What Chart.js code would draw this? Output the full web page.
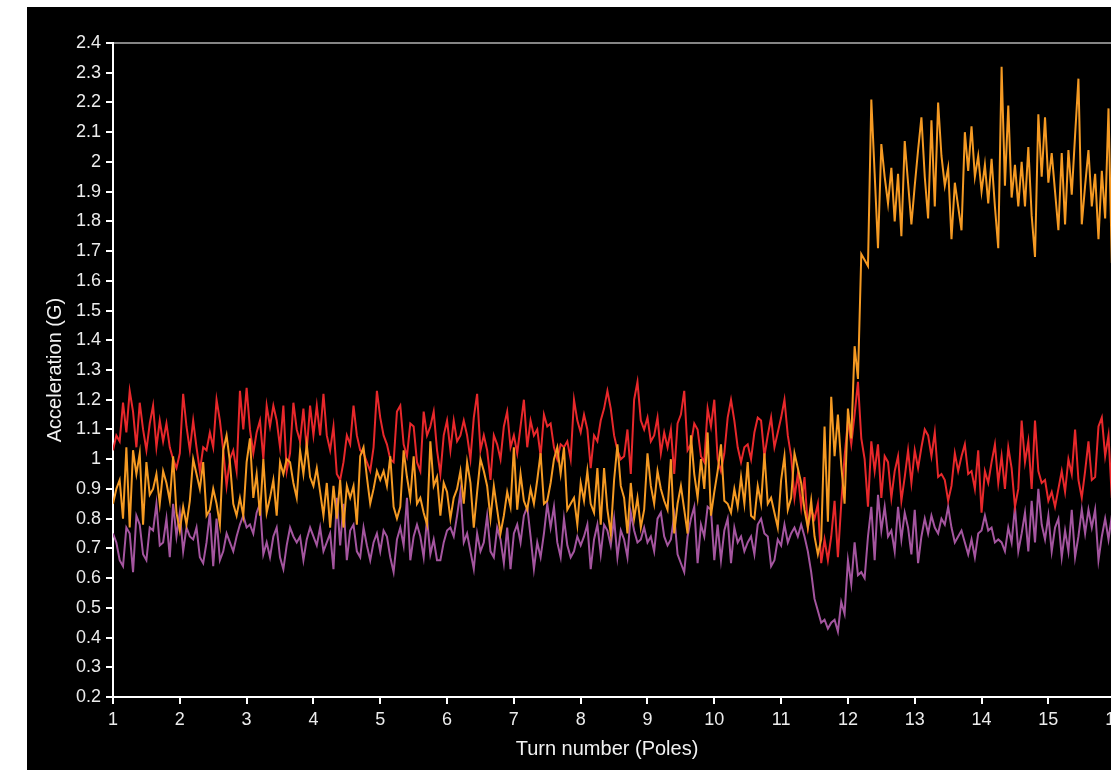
<!DOCTYPE html>
<html>
<head>
<meta charset="utf-8">
<script src="https://cdn.jsdelivr.net/npm/chart.js@4/dist/chart.umd.min.js"></script>
<style>
  html, body { margin: 0; padding: 0; background: #fff; overflow: hidden; }
  #wrap { position: absolute; left: 27px; top: 7px; width: 1170px; height: 790px; background: #000; }
</style>
</head>
<body>
<div id="wrap"><canvas id="accelChart" width="1170" height="790"></canvas></div>
<script>
// sampling of the turn axis: one reading every 0.05 turn, starting at turn 1
var turnStart = 1;
var turnStep = 0.05;

var xTicks = [1, 2, 3, 4, 5, 6, 7, 8, 9, 10, 11, 12, 13, 14, 15, 16];
var yMin = 0.2, yMax = 2.4, yStep = 0.1;

var redSeries = [
    1.03, 1.08, 1.06, 1.19, 1.09, 1.23, 1.16, 1.04, 1.19, 1.10,
    1.03, 1.12, 1.18, 1.04, 1.13, 1.06, 1.12, 1.04, 1.00, 0.97,
    1.02, 1.22, 1.11, 1.03, 1.13, 1.04, 0.96, 1.04, 1.03, 1.09,
    1.04, 1.20, 1.13, 1.03, 0.91, 1.00, 1.03, 0.96, 1.23, 1.10,
    1.24, 1.10, 1.02, 1.09, 1.13, 1.00, 1.18, 1.11, 1.18, 1.13,
    1.04, 1.18, 0.96, 1.02, 1.19, 1.10, 1.06, 1.17, 1.03, 1.18,
    1.08, 1.18, 1.08, 1.22, 1.08, 1.03, 1.11, 0.95, 0.93, 0.99,
    1.08, 1.05, 1.18, 1.08, 1.03, 1.02, 0.99, 0.96, 1.04, 1.23,
    1.14, 1.08,
    1.05, 1.00, 0.99, 1.16, 1.18, 1.05, 1.01, 1.12, 1.11, 0.99,
    0.96, 1.16, 1.08, 1.11, 1.16, 1.03, 0.95, 1.08, 1.13, 1.03,
    1.13, 1.06, 1.08, 1.13, 1.08, 1.00, 1.14, 1.22, 1.03, 1.08,
    1.03, 0.93, 1.08, 1.05, 1.00, 1.11, 1.16, 1.04, 1.08, 1.02,
    1.11, 1.20, 1.04, 1.13, 1.08, 1.10, 1.01, 1.15, 1.11, 1.12,
    1.04, 1.00, 1.05, 1.04, 1.06, 1.00, 1.20, 1.13, 1.09, 1.15,
    1.10, 0.97, 1.08, 1.06, 1.13, 1.17, 1.23, 1.17, 1.08, 1.03,
    1.00, 1.01, 1.10, 0.95, 1.20, 1.26, 1.13, 1.10, 1.14, 1.06,
    1.08, 1.14, 1.02, 1.09, 1.04, 1.10, 0.95, 1.12, 1.15, 1.23,
    1.03, 1.05, 1.12, 1.10, 1.01, 0.99, 1.17, 1.11, 1.20, 1.00,
    0.96, 1.02, 1.14, 1.20, 1.13, 1.04, 0.99, 1.04, 1.05, 1.00,
    1.09, 1.14, 1.13, 1.01, 1.08, 1.14, 1.04, 1.09, 1.14, 1.20,
    1.08, 1.01, 0.87, 0.95, 0.84, 0.94, 0.77, 0.83, 0.80, 0.85,
    0.65, 0.73, 0.66, 0.74, 0.86, 0.67, 0.85, 1.01, 1.13, 1.05,
    1.15, 1.26, 1.07, 1.00,
    0.84, 1.06, 0.96, 1.05, 0.87, 1.01, 0.99, 0.87, 0.96, 1.01,
    0.86, 0.94, 1.03, 0.92, 1.03, 0.97, 1.04, 1.10, 1.08, 1.01,
    1.09, 0.94, 0.95, 0.93, 0.86, 0.91, 1.02, 0.96, 1.01, 1.05,
    0.95, 0.96, 0.90, 1.03, 0.82, 0.96, 0.92, 0.99, 1.05, 0.92,
    1.01, 0.90, 1.04, 0.97, 0.84, 0.90, 1.13, 0.99, 1.06, 0.90,
    1.13, 0.96, 0.92, 0.93, 0.86, 0.89, 0.84, 0.90, 0.96, 0.89,
    1.00, 0.95, 1.10, 0.93, 0.87, 0.96, 1.06, 0.93, 0.94, 1.11,
    1.14, 1.01, 1.08, 0.87, 0.95
];

var orangeSeries = [
    0.85, 0.90, 0.93, 0.80, 1.04, 0.77, 1.03, 0.95, 1.02, 0.78,
    0.99, 0.88, 0.90, 0.95, 0.85, 0.96, 0.92, 0.86, 1.01, 0.82,
    0.76, 0.84, 0.78, 0.86, 1.00, 0.95, 0.90, 0.99, 0.81, 0.83,
    0.90, 0.85, 0.78, 1.03, 1.08, 0.99, 0.85, 0.81, 0.87, 0.81,
    0.99, 1.07, 0.87, 0.95, 0.81, 1.00, 0.82, 0.87, 0.93, 0.81,
    0.99, 0.95, 1.00, 0.99, 0.92, 0.87, 1.03, 0.95, 1.05, 0.94,
    0.91, 0.97, 0.89, 0.81, 0.92, 0.77, 0.91, 0.80, 0.93, 0.77,
    0.91, 0.87, 0.91, 0.78, 1.01, 1.04, 0.94, 0.85, 0.90, 0.96,
    0.93, 0.96,
    0.91, 1.01, 0.84, 0.80, 0.84, 1.03, 0.94, 0.87, 1.01, 0.85,
    0.87, 0.82, 0.78, 1.06, 0.91, 0.94, 0.81, 0.92, 0.89, 0.80,
    0.87, 0.90, 0.96, 0.85, 0.99, 0.92, 0.77, 0.89, 1.00, 0.96,
    0.91, 0.80, 0.91, 0.83, 0.75, 0.81, 0.89, 0.84, 1.04, 0.83,
    0.95, 0.86, 0.83, 0.90, 0.85, 0.93, 1.02, 0.85, 0.86, 0.92,
    1.00, 1.04, 0.95, 1.04, 0.83, 0.85, 0.87, 0.78, 0.92, 0.86,
    0.96, 0.85, 0.82, 0.97, 0.78, 0.97, 0.83, 0.75, 0.93, 1.05,
    0.91, 0.87, 0.75, 0.92, 0.80, 0.87, 0.77, 0.83, 1.02, 0.91,
    0.85, 0.96, 0.90, 0.86, 0.83, 1.00, 0.75, 0.85, 0.91, 0.83,
    0.75, 1.08, 0.95, 0.87, 1.00, 0.90, 1.09, 0.81, 0.89, 0.96,
    1.05, 0.86, 0.85, 0.82, 0.90, 0.84, 0.94, 0.85, 0.99, 0.81,
    0.80, 0.91, 0.85, 1.02, 0.85, 0.87, 0.82, 0.77, 0.93, 1.01,
    0.83, 0.87, 1.02, 0.97, 0.92, 0.83, 0.77, 0.86, 0.74, 0.68,
    0.73, 1.11, 0.79, 1.21, 1.01, 1.15, 0.98, 0.85, 1.17, 1.07,
    1.38, 1.27,
    1.69, 1.67, 1.65, 2.21, 1.96, 1.71, 2.06, 1.95, 1.86, 1.98,
    1.80, 1.96, 1.75, 2.07, 1.93, 1.79, 1.92, 2.04, 2.15, 1.95,
    1.81, 2.14, 1.85, 2.20, 2.02, 1.92, 1.98, 1.74, 1.93, 1.85,
    1.77, 2.10, 1.97, 2.12, 1.95, 2.02, 1.90, 1.99, 1.86, 2.01,
    1.85, 1.71, 2.32, 1.92, 2.19, 1.88, 1.99, 1.85, 2.00, 1.85,
    2.05, 1.82, 1.68, 2.16, 1.95, 2.15, 1.93, 2.03, 1.90, 1.77,
    2.03, 1.79, 2.04, 1.89, 2.09, 2.28, 1.79, 1.92, 2.04, 1.85,
    1.96, 1.74, 1.97, 1.81, 2.18, 1.66, 1.90
];

var purpleSeries = [
    0.75, 0.72, 0.66, 0.64, 0.77, 0.75, 0.62, 0.81, 0.78, 0.68,
    0.66, 0.77, 0.76, 0.85, 0.71, 0.72, 0.80, 0.67, 0.85, 0.74,
    0.82, 0.69, 0.77, 0.74, 0.73, 0.77, 0.67, 0.65, 0.72, 0.82,
    0.64, 0.80, 0.66, 0.69, 0.75, 0.72, 0.69, 0.74, 0.78, 0.81,
    0.77, 0.78, 0.75, 0.82, 0.85, 0.68, 0.72, 0.67, 0.74, 0.77,
    0.67, 0.63, 0.71, 0.77, 0.74, 0.72, 0.74, 0.66, 0.73, 0.77,
    0.74, 0.71, 0.77, 0.69, 0.72, 0.75, 0.63, 0.87, 0.71, 0.85,
    0.66, 0.76, 0.78, 0.69, 0.67, 0.77, 0.71, 0.66, 0.72, 0.75,
    0.69, 0.76,
    0.74, 0.67, 0.62, 0.73, 0.77, 0.71, 0.87, 0.66, 0.74, 0.78,
    0.74, 0.67, 0.80, 0.68, 0.73, 0.66, 0.66, 0.72, 0.76, 0.77,
    0.74, 0.81, 0.89, 0.72, 0.75, 0.69, 0.63, 0.75, 0.69, 0.72,
    0.81, 0.69, 0.67, 0.77, 0.73, 0.65, 0.77, 0.63, 0.75, 0.78,
    0.72, 0.81, 0.84, 0.74, 0.63, 0.72, 0.67, 0.75, 0.85, 0.77,
    0.84, 0.72, 0.67, 0.80, 0.71, 0.67, 0.69, 0.74, 0.71, 0.74,
    0.78, 0.63, 0.73, 0.78, 0.68, 0.78, 0.76, 0.71, 0.80, 0.67,
    0.76, 0.73, 0.67, 0.82, 0.76, 0.72, 0.73, 0.77, 0.72, 0.74,
    0.69, 0.80, 0.82, 0.74, 0.71, 0.73, 0.81, 0.68, 0.65, 0.62,
    0.74, 0.80, 0.84, 0.65, 0.78, 0.74, 0.84, 0.83, 0.66, 0.78,
    0.66, 0.76, 0.80, 0.65, 0.77, 0.72, 0.74, 0.69, 0.72, 0.74,
    0.68, 0.78, 0.80, 0.75, 0.74, 0.64, 0.66, 0.73, 0.71, 0.78,
    0.72, 0.75, 0.77, 0.74, 0.78, 0.74, 0.69, 0.62, 0.53, 0.49,
    0.45, 0.46, 0.43, 0.45, 0.46, 0.42, 0.52, 0.48, 0.66, 0.58,
    0.72, 0.61, 0.62, 0.60, 0.74, 0.84, 0.66, 0.88,
    0.76, 0.84, 0.74, 0.76, 0.69, 0.84, 0.73, 0.82, 0.77, 0.68,
    0.83, 0.65, 0.74, 0.80, 0.75, 0.81, 0.77, 0.75, 0.80, 0.78,
    0.84, 0.77, 0.72, 0.74, 0.76, 0.72, 0.68, 0.73, 0.67, 0.75,
    0.76, 0.81, 0.76, 0.77, 0.72, 0.73, 0.72, 0.69, 0.77, 0.72,
    0.84, 0.69, 0.75, 0.82, 0.69, 0.86, 0.72, 0.90, 0.78, 0.73,
    0.81, 0.69, 0.77, 0.80, 0.67, 0.76, 0.69, 0.83, 0.67, 0.74,
    0.83, 0.75, 0.83, 0.77, 0.83, 0.66, 0.74, 0.80, 0.73, 0.81,
    0.77
];

function toPoints(values) {
    return values.map(function(v, i) { return { x: turnStart + i * turnStep, y: v }; });
}

Chart.defaults.font.family = '"Liberation Sans", Arial, Helvetica, sans-serif';

var axisTitles = {
    id: 'axisTitles',
    afterDraw: function(chart) {
        var ctx = chart.ctx;
        ctx.save();
        ctx.fillStyle = '#f2f2f2';
        ctx.font = '20px "Liberation Sans", Arial, sans-serif';
        ctx.textAlign = 'center';
        ctx.textBaseline = 'alphabetic';
        ctx.fillText('Turn number (Poles)', 580, 748);
        ctx.textBaseline = 'middle';
        ctx.translate(28, 363);
        ctx.rotate(-Math.PI / 2);
        ctx.fillText('Acceleration (G)', 0, 0);
        ctx.restore();
    }
};

function isTop(v) { return Math.abs(v - yMax) < 1e-6; }

new Chart(document.getElementById('accelChart'), {
    type: 'line',
    data: {
        datasets: [{
            label: 'Orange',
            data: toPoints(orangeSeries),
            borderColor: '#f59a23',
            borderWidth: 2,
            pointRadius: 0,
            tension: 0
        }, {
            label: 'Red',
            data: toPoints(redSeries),
            borderColor: '#e8282b',
            borderWidth: 2,
            pointRadius: 0,
            tension: 0
        }, {
            label: 'Purple',
            data: toPoints(purpleSeries),
            borderColor: '#a4559f',
            borderWidth: 2,
            pointRadius: 0,
            tension: 0
        }]
    },
    options: {
        responsive: false,
        animation: false,
        layout: { padding: { top: 36, right: 15, left: 0, bottom: 0 } },
        plugins: { legend: { display: false }, tooltip: { enabled: false } },
        scales: {
            x: {
                type: 'linear',
                min: xTicks[0],
                max: xTicks[xTicks.length - 1] + 1,
                afterFit: function(s) { s.height = 100; },
                afterBuildTicks: function(s) {
                    s.ticks = xTicks.concat([xTicks[xTicks.length - 1] + 1]).map(function(v) { return { value: v }; });
                },
                ticks: { color: '#ececec', font: { size: 18 }, padding: 5, maxRotation: 0, autoSkip: false },
                grid: { drawOnChartArea: false, tickColor: '#ffffff', tickLength: 7, lineWidth: 2 },
                border: { color: '#ffffff', width: 2 }
            },
            y: {
                min: yMin,
                max: yMax,
                afterFit: function(s) { s.width = 86; },
                ticks: {
                    stepSize: yStep,
                    autoSkip: false,
                    color: '#ececec',
                    font: { size: 18 },
                    padding: 5,
                    callback: function(v) { return String(Math.round(v * 10) / 10); }
                },
                grid: {
                    color: function(c) { return c.tick && isTop(c.tick.value) ? '#858585' : 'rgba(0,0,0,0)'; },
                    tickColor: '#ffffff',
                    tickLength: 7,
                    lineWidth: 2
                },
                border: { color: '#ffffff', width: 2 }
            }
        }
    },
    plugins: [axisTitles]
});
</script>
</body>
</html>
